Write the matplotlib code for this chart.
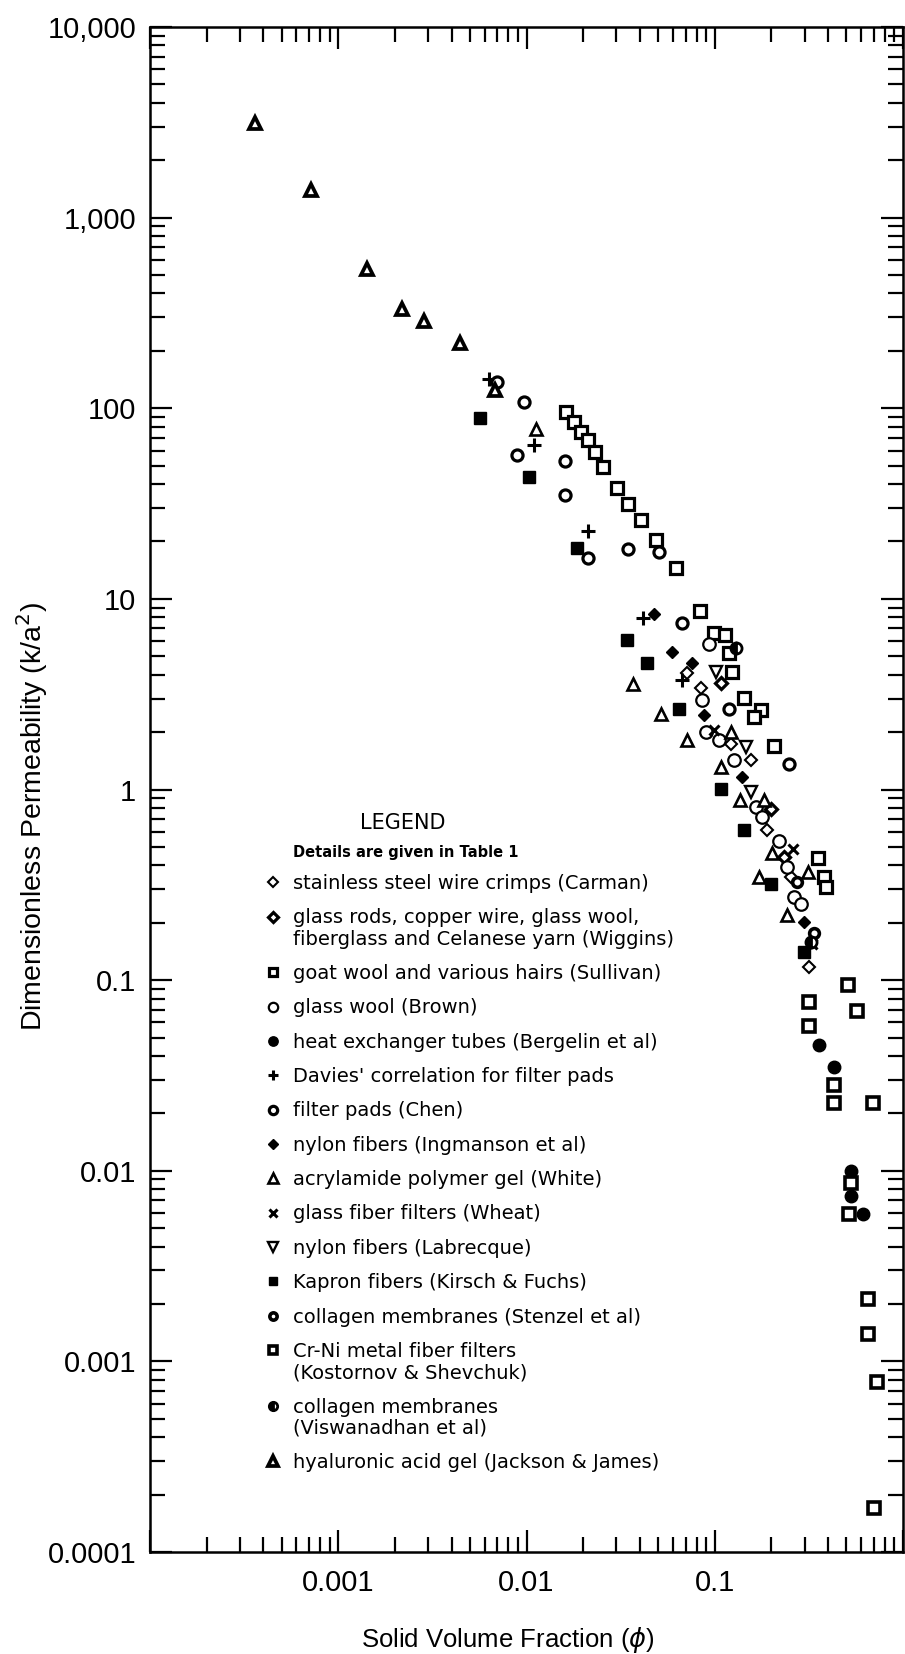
import matplotlib
matplotlib.use("Agg")
import matplotlib.pyplot as plt
import numpy as np
from matplotlib.ticker import FixedLocator, FixedFormatter, LogLocator, NullFormatter

# solid volume fraction (phi) and dimensionless permeability k/a^2
carman_x = [0.0715, 0.0843, 0.1216, 0.155, 0.19, 0.253, 0.317]
carman_y = [4.06, 3.39, 1.74, 1.43, 0.61, 0.348, 0.1175]
wiggins_x = [0.1076, 0.199, 0.234]
wiggins_y = [3.6, 0.79, 0.444]
sullivan_x = [0.0163, 0.0179, 0.0194, 0.0213, 0.0231, 0.0254, 0.0303, 0.0346, 0.0407, 0.0487,
              0.062, 0.0832, 0.0991, 0.113, 0.119, 0.124, 0.143, 0.176, 0.162, 0.206, 0.352,
              0.381, 0.389]
sullivan_y = [95.9, 84.4, 75.4, 68.1, 59.2, 49.3, 38.0, 31.4, 25.9, 20.4,
              14.45, 8.67, 6.6, 6.5, 5.18, 4.15, 3.01, 2.61, 2.40, 1.69, 0.435,
              0.348, 0.309]
brown_x = [0.0933, 0.086, 0.0895, 0.105, 0.127, 0.165, 0.179, 0.22, 0.243, 0.264, 0.286]
brown_y = [5.8, 2.94, 2.01, 1.82, 1.43, 0.81, 0.72, 0.54, 0.39, 0.273, 0.252]
bergelin_x = [0.359, 0.428, 0.528, 0.528, 0.61]
bergelin_y = [0.0459, 0.0349, 0.0100, 0.0074, 0.0059]
davies_x = [0.0063, 0.0109, 0.0212, 0.0417, 0.067]
davies_y = [142, 64, 22.8, 7.9, 3.75]
chen_x = [0.0070, 0.0097, 0.00885, 0.0161, 0.016, 0.0212, 0.0346, 0.0506, 0.0667, 0.119, 0.248]
chen_y = [138, 108, 56.8, 52.8, 35.1, 16.3, 18.2, 17.7, 7.43, 2.66, 1.36]
ingmanson_x = [0.0475, 0.0595, 0.076, 0.0877, 0.139, 0.298]
ingmanson_y = [8.3, 5.27, 4.62, 2.46, 1.17, 0.202]
white_x = [0.0112, 0.0367, 0.0516, 0.0716, 0.1076, 0.1216, 0.137, 0.183, 0.2026, 0.172, 0.243, 0.311]
white_y = [78, 3.57, 2.50, 1.82, 1.31, 2.01, 0.88, 0.88, 0.462, 0.348, 0.219, 0.37]
wheat_x = [0.099, 0.259, 0.33]
wheat_y = [2.05, 0.49, 0.155]
labrecque_x = [0.101, 0.146, 0.155]
labrecque_y = [4.15, 1.67, 0.97]
kapron_x = [0.00565, 0.0103, 0.0186, 0.0343, 0.0438, 0.0646, 0.1076, 0.143, 0.199, 0.298]
kapron_y = [88.5, 43.7, 18.4, 6.08, 4.62, 2.63, 1.01, 0.61, 0.321, 0.141]
stenzel_x = [0.275, 0.337]
stenzel_y = [0.328, 0.176]
crni_x = [0.513, 0.317, 0.569, 0.317, 0.431, 0.431, 0.689, 0.528, 0.517, 0.653, 0.653, 0.728, 0.703]
crni_y = [0.094, 0.0767, 0.0685, 0.0574, 0.0283, 0.0226, 0.0226, 0.0086, 0.0059, 0.00213, 0.0014,
          0.00078, 0.00017]
visw_x = [0.129, 0.325]
visw_y = [5.5, 0.159]
jackson_x = [0.00036, 0.00072, 0.00142, 0.00218, 0.00284, 0.00446, 0.0068]
jackson_y = [3130, 1400, 540, 330, 288, 219, 124]

x_ticks = [1e-4, 1e-3, 1e-2, 1e-1, 1]
x_labels = ["", "0.001", "0.01", "0.1", ""]
y_ticks = [1e-4, 1e-3, 1e-2, 1e-1, 1, 10, 100, 1000, 10000]
y_labels = ["0.0001", "0.001", "0.01", "0.1", "1", "10", "100", "1,000", "10,000"]

plt.rcParams["font.family"] = ["Liberation Sans", "DejaVu Sans"]
LEG_FONT = "DejaVu Sans"

fig = plt.figure(figsize=(9.05, 16.54), dpi=100)
ax = fig.add_axes([150 / 905, 1 - 1552 / 1654, 753 / 905, 1525 / 1654])

opn = dict(mfc="white", mec="black", color="black", ls="none")
fil = dict(mfc="black", mec="black", color="black", ls="none")

series = [
    ("stainless steel wire crimps (Carman)", carman_x, carman_y, dict(marker="D", ms=6.5, mew=1.5, **opn)),
    ("glass rods, copper wire, glass wool,\nfiberglass and Celanese yarn (Wiggins)", wiggins_x, wiggins_y,
     dict(marker="D", ms=6.5, mew=2.3, **opn)),
    ("goat wool and various hairs (Sullivan)", sullivan_x, sullivan_y, dict(marker="s", ms=8, mew=2.3, **opn)),
    ("glass wool (Brown)", brown_x, brown_y, dict(marker="o", ms=9, mew=1.6, **opn)),
    ("heat exchanger tubes (Bergelin et al)", bergelin_x, bergelin_y, dict(marker="o", ms=9, mew=1, **fil)),
    ("Davies' correlation for filter pads", davies_x, davies_y, dict(marker="+", ms=10, mew=2.2, **fil)),
    ("filter pads (Chen)", chen_x, chen_y, dict(marker="o", ms=8, mew=2.3, **opn)),
    ("nylon fibers (Ingmanson et al)", ingmanson_x, ingmanson_y, dict(marker="D", ms=6.5, mew=1, **fil)),
    ("acrylamide polymer gel (White)", white_x, white_y, dict(marker="^", ms=9, mew=1.9, **opn)),
    ("glass fiber filters (Wheat)", wheat_x, wheat_y, dict(marker="x", ms=7, mew=2.2, **fil)),
    ("nylon fibers (Labrecque)", labrecque_x, labrecque_y, dict(marker="v", ms=9, mew=1.7, **opn)),
    ("Kapron fibers (Kirsch & Fuchs)", kapron_x, kapron_y, dict(marker="s", ms=8, mew=1, **fil)),
    ("collagen membranes (Stenzel et al)", stenzel_x, stenzel_y, dict(marker="o", ms=7, mew=2.6, **opn)),
    ("Cr-Ni metal fiber filters\n(Kostornov & Shevchuk)", crni_x, crni_y, dict(marker="s", ms=8, mew=2.6, **opn)),
    ("collagen membranes\n(Viswanadhan et al)", visw_x, visw_y,
     dict(marker="o", ms=8, mew=2, fillstyle="left", mfc="black", mfcalt="white", mec="black", ls="none")),
    ("hyaluronic acid gel (Jackson & James)", jackson_x, jackson_y, dict(marker="^", ms=9, mew=2.7, **opn)),
]

handles = []
for label, xs, ys, kw in series:
    h, = ax.plot(xs, ys, label=label, clip_on=False, **kw)
    handles.append(h)

ax.set_xscale("log"); ax.set_yscale("log")
ax.set_xlim(1e-4, 1); ax.set_ylim(1e-4, 1e4)
ax.xaxis.set_major_locator(FixedLocator(x_ticks)); ax.xaxis.set_major_formatter(FixedFormatter(x_labels))
ax.yaxis.set_major_locator(FixedLocator(y_ticks)); ax.yaxis.set_major_formatter(FixedFormatter(y_labels))
for a in (ax.xaxis, ax.yaxis):
    a.set_minor_locator(LogLocator(base=10, subs=np.arange(2, 10), numticks=30))
    a.set_minor_formatter(NullFormatter())
ax.tick_params(which="both", direction="in", top=True, right=True, width=1.6, labelsize=21)
ax.tick_params(which="major", length=16)
ax.tick_params(which="minor", length=11)
ax.tick_params(axis="y", pad=10)
ax.tick_params(axis="x", pad=12)
for s in ax.spines.values():
    s.set_linewidth(1.8)

ax.set_xlabel("Solid Volume Fraction ($\\phi$)", fontsize=18.5)
ax.set_ylabel("Dimensionless Permeability (k/a$^2$)", fontsize=20.5)
ax.xaxis.set_label_coords(0.475, -0.048)
ax.yaxis.set_label_coords(-0.133, 0.482)

ax.text(0.335, 0.478, "LEGEND", transform=ax.transAxes, ha="center", va="center",
        fontsize=15, family=LEG_FONT)
ax.text(0.19, 0.459, "Details are given in Table 1", transform=ax.transAxes, ha="left",
        va="center", fontsize=10.5, family=LEG_FONT, weight="bold")
leg = ax.legend(handles=handles, loc="upper left", bbox_to_anchor=(0.15, 0.4446), frameon=False,
                prop=dict(family=LEG_FONT, size=14), handlelength=1.0, handletextpad=0.55,
                labelspacing=0.79, borderaxespad=0, borderpad=0, markerscale=0.75)
for t in leg.get_texts():
    t.set_linespacing(1.15)
# two-line entries: put the symbol beside the first line, as in the original
for h, t in zip(leg.legend_handles, leg.get_texts()):
    if "\n" in t.get_text():
        h.set_ydata(np.asarray(h.get_ydata()) + 9)

fig.savefig("out.png", dpi=100)
